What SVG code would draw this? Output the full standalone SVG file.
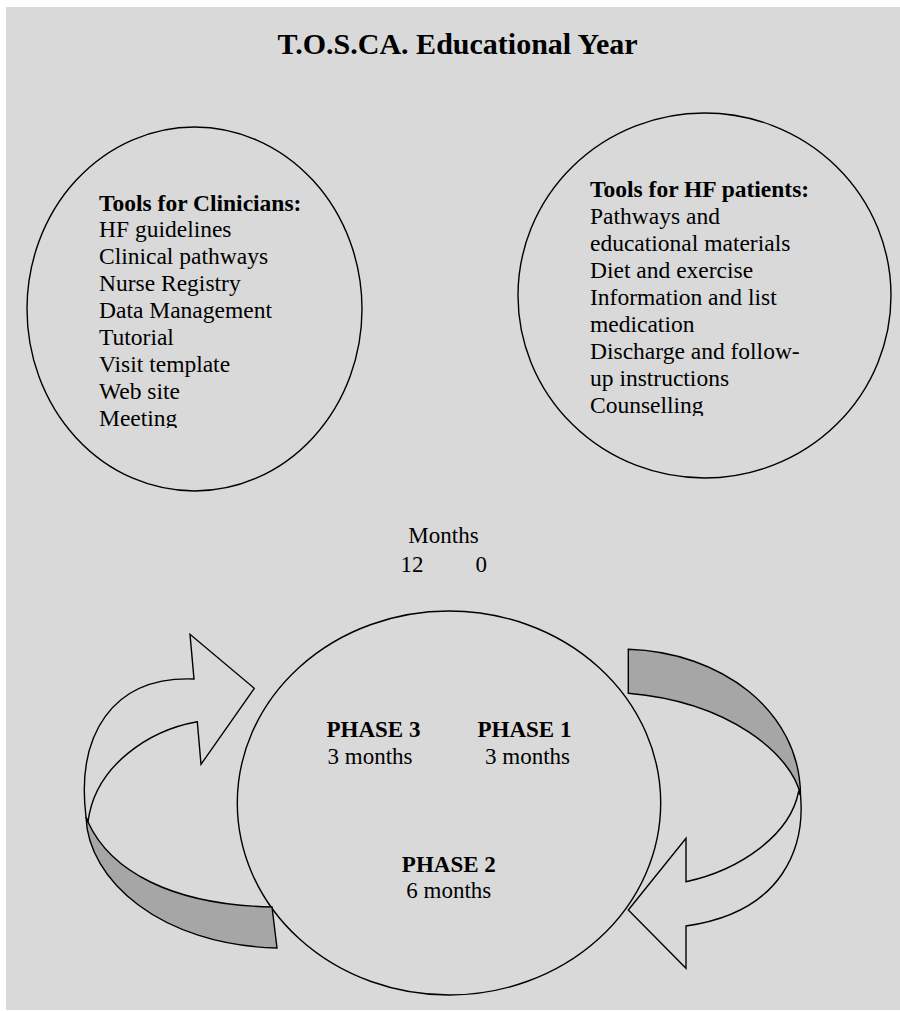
<svg xmlns="http://www.w3.org/2000/svg" width="900" height="1011" viewBox="0 0 900 1011">
<defs>
<style>
.t{font-family:"Liberation Serif","Times New Roman",serif;fill:#000}
.b{font-weight:bold}
.o{fill:none;stroke:#000;stroke-width:1.4}
.band{fill:#a6a6a6;stroke:#000;stroke-width:1.4;stroke-linejoin:miter}
.face{fill:none;stroke:#000;stroke-width:1.4;stroke-linejoin:miter}
</style>
<clipPath id="clipL"><rect x="90" y="180" width="260" height="248"/></clipPath>
<clipPath id="clipR"><rect x="580" y="170" width="300" height="246"/></clipPath>
</defs>
<rect x="0" y="0" width="900" height="1011" fill="#ffffff"/>
<rect x="6" y="7" width="894" height="1003" fill="#d9d9d9"/>
<text class="t b" x="457.5" y="54" font-size="30" text-anchor="middle">T.O.S.CA. Educational Year</text>

<g id="clinicians">
<ellipse class="o" cx="194.5" cy="309" rx="167.5" ry="182"/>
<g clip-path="url(#clipL)" class="t" font-size="23.5">
<text class="b" x="99" y="210.5">Tools for Clinicians:</text>
<text x="99" y="237.3">HF guidelines</text>
<text x="99" y="264.2">Clinical pathways</text>
<text x="99" y="291.1">Nurse Registry</text>
<text x="99" y="318">Data Management</text>
<text x="99" y="345">Tutorial</text>
<text x="99" y="372">Visit template</text>
<text x="99" y="399">Web site</text>
<text x="99" y="426">Meeting</text>
</g>
</g>

<g id="patients">
<ellipse class="o" cx="704.5" cy="295.5" rx="186.5" ry="182.5"/>
<g clip-path="url(#clipR)" class="t" font-size="23.5">
<text class="b" x="590" y="196.5">Tools for HF patients:</text>
<text x="590" y="223.5">Pathways and</text>
<text x="590" y="250.5">educational materials</text>
<text x="590" y="277.5">Diet and exercise</text>
<text x="590" y="304.5">Information and list</text>
<text x="590" y="331.5">medication</text>
<text x="590" y="358.5">Discharge and follow-</text>
<text x="590" y="385.5">up instructions</text>
<text x="590" y="412.5">Counselling</text>
</g>
</g>

<g id="months" class="t" font-size="23">
<text x="443.5" y="543" text-anchor="middle">Months</text>
<text x="400.5" y="571.5">12</text>
<text x="475.5" y="571.5">0</text>
</g>

<g id="year-cycle">
<ellipse class="o" cx="449" cy="803" rx="211.7" ry="192"/>
<g class="t" font-size="23">
<text class="b" x="326.5" y="736.5">PHASE 3</text>
<text x="327.5" y="764">3 months</text>
<text class="b" x="477.5" y="736.5">PHASE 1</text>
<text x="485" y="764">3 months</text>
<text class="b" x="448.8" y="871.5" text-anchor="middle">PHASE 2</text>
<text x="448.8" y="898.3" text-anchor="middle">6 months</text>
</g>
</g>

<g id="connectors">
<g id="arrow-left">
<path class="band" d="M86,817 C88,880 160,945 277,948 L272,907 C170,905 110,870 88,822 Z"/>
<path class="face" d="M86,817 C76,735 112,676 194,679 L190,634.3 L254.3,688.3 L201,764.3 L197.3,721.7 C150,730 95,765 88,822 Z"/>
</g>
<g id="arrow-right">
<path class="band" d="M628.3,649.3 C720,652 800,710 800.5,795 C792,755 730,702 628.3,693.3 Z"/>
<path class="face" d="M800.5,795 C805,845 785,912 686,926 L686,968.3 L628.3,910 L686,838.3 L686,881.7 C740,870 790,835 798.5,792 Z"/>
</g>
</g>
</svg>
